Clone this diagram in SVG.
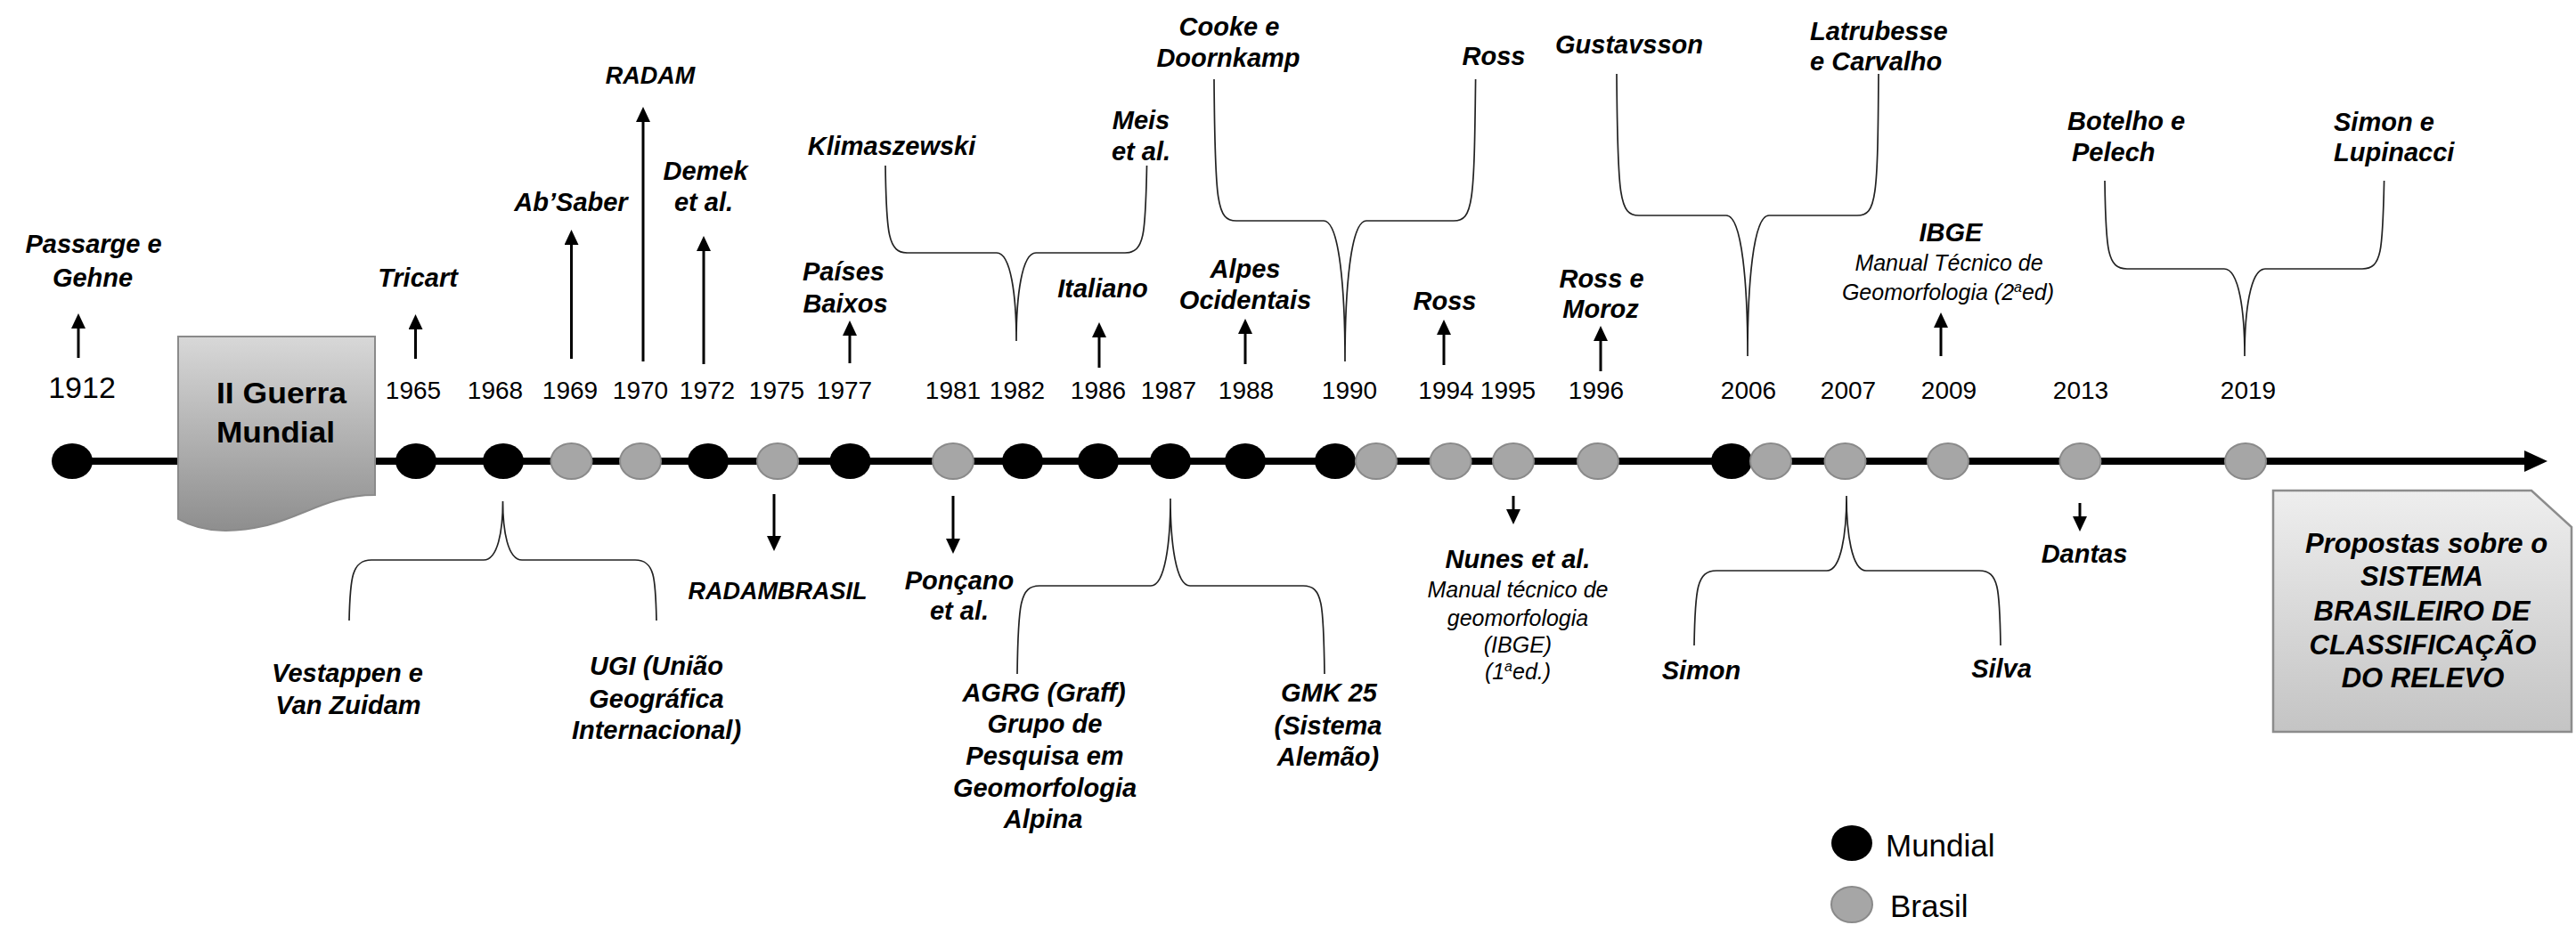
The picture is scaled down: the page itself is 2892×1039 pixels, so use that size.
<svg xmlns="http://www.w3.org/2000/svg" width="2892" height="1039" viewBox="0 0 2892 1039">
<style>
text{font-family:"Liberation Sans",Arial,Helvetica,sans-serif;fill:#000}
.l{font-weight:bold;font-style:italic;font-size:29px;text-anchor:middle}
.ls{font-weight:bold;font-style:italic;font-size:29px;text-anchor:start}
.caps{font-size:27px}
.s{font-style:italic;font-size:25px;text-anchor:middle}
.y{font-size:28px;text-anchor:middle}
.y1{font-size:34px;text-anchor:middle}
.gw{font-weight:bold;font-size:34px}
.bx{font-weight:bold;font-style:italic;font-size:31px;text-anchor:middle}
.lg{font-size:35px;text-anchor:start}
.m{fill:#000}
.b{fill:#a6a6a6;stroke:#8a8a8a;stroke-width:2}
.ar{stroke:#000;stroke-width:3;fill:none;marker-end:url(#ah)}
.br{fill:none;stroke:#222;stroke-width:1.7}
</style>
<defs>
<marker id="ah" markerUnits="userSpaceOnUse" markerWidth="17" markerHeight="16" viewBox="0 0 17 16" refX="5" refY="8" orient="auto"><path d="M0,0 L17,8 L0,16 Z" fill="#000"/></marker>
<linearGradient id="gw" x1="0" y1="0" x2="0" y2="1"><stop offset="0" stop-color="#d8d8d8"/><stop offset="1" stop-color="#8e8e8e"/></linearGradient>
<linearGradient id="gp" x1="0" y1="0" x2="0" y2="1"><stop offset="0" stop-color="#eeeeee"/><stop offset="1" stop-color="#c4c4c4"/></linearGradient>
</defs>
<rect width="2892" height="1039" fill="#fff"/>

<g id="connectors">
<g id="timeline-axis">
<line x1="81" y1="518" x2="2840" y2="518" stroke="#000" stroke-width="8"/>
<polygon points="2834,506 2860,518 2834,530" fill="#000"/>
</g>
<g id="up-arrows">
<line class="ar" x1="88" y1="402" x2="88" y2="364"/>
<line class="ar" x1="466.5" y1="403" x2="466.5" y2="365"/>
<line class="ar" x1="641.5" y1="403" x2="641.5" y2="270"/>
<line class="ar" x1="722" y1="406" x2="722" y2="132"/>
<line class="ar" x1="790" y1="409" x2="790" y2="277"/>
<line class="ar" x1="954" y1="408" x2="954" y2="372"/>
<line class="ar" x1="1234" y1="413" x2="1234" y2="374"/>
<line class="ar" x1="1398" y1="409" x2="1398" y2="370"/>
<line class="ar" x1="1621" y1="410" x2="1621" y2="371"/>
<line class="ar" x1="1797" y1="417" x2="1797" y2="378"/>
<line class="ar" x1="2179" y1="400" x2="2179" y2="363"/>
</g>
<g id="down-arrows">
<line class="ar" x1="869" y1="555" x2="869" y2="607"/>
<line class="ar" x1="1070" y1="557" x2="1070" y2="610"/>
<line class="ar" x1="1699" y1="557" x2="1699" y2="577"/>
<line class="ar" x1="2335" y1="565" x2="2335" y2="585"/>
</g>
<g id="braces">
<path class="br" d="M994,186 C995,263 997,284 1019,284 L1119,284 C1135,284 1141,333 1141,383 C1141,333 1147,284 1163,284 L1263,284 C1285,284 1286,263 1287.5,186"/>
<path class="br" d="M1363,89 C1364,228 1366,248 1388,248 L1486,248 C1504,248 1510,327 1510,406 C1510,327 1516,248 1534,248 L1632,248 C1654,248 1655,228 1656.6,89"/>
<path class="br" d="M1815,83 C1816,222 1818,242 1840,242 L1938,242 C1956,242 1962,321 1962,400 C1962,321 1968,242 1986,242 L2085,242 C2107,242 2108,222 2109,83"/>
<path class="br" d="M2363,203 C2364,282 2366,302 2388,302 L2497,302 C2514,302 2520,351 2520,400 C2520,351 2526,302 2543,302 L2652,302 C2674,302 2675,282 2676.6,203"/>
<path class="br" d="M392,697 C393,649 395,629 417,629 L543,629 C559,629 564.5,596 564.5,563 C564.5,596 570,629 586,629 L713,629 C735,629 736,649 737,697"/>
<path class="br" d="M1142,757 C1143,678 1145,658 1167,658 L1292,658 C1308,658 1314,609 1314,560 C1314,609 1320,658 1336,658 L1463,658 C1485,658 1486,678 1487,757"/>
<path class="br" d="M1902,725 C1903,661 1905,641 1927,641 L2051,641 C2067,641 2073,599 2073,557 C2073,599 2079,641 2095,641 L2222,641 C2244,641 2245,661 2246,725"/>
</g>
</g>

<g id="ii-guerra">
<path d="M200,378 H421 V556 C370,556 345,578 300,590 C265,598 230,600 200,583 Z" fill="url(#gw)" stroke="#8a8a8a" stroke-width="2"/>
<text class="gw" x="243" y="453" textLength="146" lengthAdjust="spacingAndGlyphs">II Guerra</text>
<text class="gw" x="243" y="497" textLength="133" lengthAdjust="spacingAndGlyphs">Mundial</text>
</g>

<g id="years">
<g id="y1912"><ellipse class="m" cx="81" cy="518" rx="23" ry="20"/><text class="y1" x="92" y="447">1912</text></g>
<g id="y1965"><ellipse class="m" cx="467" cy="518" rx="23" ry="20"/><text class="y" x="464" y="448">1965</text></g>
<g id="y1968"><ellipse class="m" cx="565" cy="518" rx="23" ry="20"/><text class="y" x="556" y="448">1968</text></g>
<g id="y1969"><ellipse class="b" cx="641.5" cy="518" rx="23" ry="20"/><text class="y" x="640" y="448">1969</text></g>
<g id="y1970"><ellipse class="b" cx="719" cy="518" rx="23" ry="20"/><text class="y" x="719" y="448">1970</text></g>
<g id="y1972"><ellipse class="m" cx="795" cy="518" rx="23" ry="20"/><text class="y" x="794" y="448">1972</text></g>
<g id="y1975"><ellipse class="b" cx="873" cy="518" rx="23" ry="20"/><text class="y" x="872" y="448">1975</text></g>
<g id="y1977"><ellipse class="m" cx="954.5" cy="518" rx="23" ry="20"/><text class="y" x="948" y="448">1977</text></g>
<g id="y1981"><ellipse class="b" cx="1070" cy="518" rx="23" ry="20"/><text class="y" x="1070" y="448">1981</text></g>
<g id="y1982"><ellipse class="m" cx="1148" cy="518" rx="23" ry="20"/><text class="y" x="1142" y="448">1982</text></g>
<g id="y1986"><ellipse class="m" cx="1233" cy="518" rx="23" ry="20"/><text class="y" x="1233" y="448">1986</text></g>
<g id="y1987"><ellipse class="m" cx="1314" cy="518" rx="23" ry="20"/><text class="y" x="1312" y="448">1987</text></g>
<g id="y1988"><ellipse class="m" cx="1398" cy="518" rx="23" ry="20"/><text class="y" x="1399" y="448">1988</text></g>
<g id="y1990"><ellipse class="m" cx="1499" cy="518" rx="23" ry="20"/><ellipse class="b" cx="1545" cy="518" rx="23" ry="20"/><text class="y" x="1515" y="448">1990</text></g>
<g id="y1994"><ellipse class="b" cx="1628.6" cy="518" rx="23" ry="20"/><text class="y" x="1623.5" y="448">1994</text></g>
<g id="y1995"><ellipse class="b" cx="1699" cy="518" rx="23" ry="20"/><text class="y" x="1693" y="448">1995</text></g>
<g id="y1996"><ellipse class="b" cx="1794" cy="518" rx="23" ry="20"/><text class="y" x="1792" y="448">1996</text></g>
<g id="y2006"><ellipse class="m" cx="1944" cy="518" rx="23" ry="20"/><ellipse class="b" cx="1988" cy="518" rx="23" ry="20"/><text class="y" x="1963" y="448">2006</text></g>
<g id="y2007"><ellipse class="b" cx="2071.5" cy="518" rx="23" ry="20"/><text class="y" x="2075" y="448">2007</text></g>
<g id="y2009"><ellipse class="b" cx="2187" cy="518" rx="23" ry="20"/><text class="y" x="2188" y="448">2009</text></g>
<g id="y2013"><ellipse class="b" cx="2335.4" cy="518" rx="23" ry="20"/><text class="y" x="2336" y="448">2013</text></g>
<g id="y2019"><ellipse class="b" cx="2521" cy="518" rx="23" ry="20"/><text class="y" x="2524" y="448">2019</text></g>
</g>

<g id="labels-top">
<g id="l-passarge"><text class="l" x="105" y="284">Passarge e</text><text class="l" x="104" y="322">Gehne</text></g>
<g id="l-tricart"><text class="l" x="469" y="322">Tricart</text></g>
<g id="l-absaber"><text class="l" x="641" y="237">Ab’Saber</text></g>
<g id="l-radam"><text class="l caps" x="730" y="94">RADAM</text></g>
<g id="l-demek"><text class="l" x="792" y="202">Demek</text><text class="l" x="790" y="237">et al.</text></g>
<g id="l-klima"><text class="l" x="1001" y="174">Klimaszewski</text></g>
<g id="l-meis"><text class="l" x="1281" y="145">Meis</text><text class="l" x="1281" y="180">et al.</text></g>
<g id="l-paises"><text class="l" x="947" y="315">Países</text><text class="l" x="949" y="351">Baixos</text></g>
<g id="l-italiano"><text class="l" x="1238" y="334">Italiano</text></g>
<g id="l-cooke"><text class="l" x="1380" y="40">Cooke e</text><text class="l" x="1379" y="75">Doornkamp</text></g>
<g id="l-ross1"><text class="l" x="1677" y="73">Ross</text></g>
<g id="l-alpes"><text class="l" x="1398" y="312">Alpes</text><text class="l" x="1398" y="347">Ocidentais</text></g>
<g id="l-ross2"><text class="l" x="1622" y="348">Ross</text></g>
<g id="l-rossmoroz"><text class="l" x="1798" y="323">Ross e</text><text class="l" x="1797" y="357">Moroz</text></g>
<g id="l-gustavsson"><text class="l" x="1829" y="60">Gustavsson</text></g>
<g id="l-latrubesse"><text class="ls" x="2032" y="45">Latrubesse</text><text class="ls" x="2032" y="79">e Carvalho</text></g>
<g id="l-ibge"><text class="l" x="2190" y="271">IBGE</text><text class="s" x="2188" y="304">Manual Técnico de</text><text class="s" x="2187" y="337">Geomorfologia (2<tspan font-size="16" dy="-9">a</tspan><tspan dy="9">ed)</tspan></text></g>
<g id="l-botelho"><text class="ls" x="2321" y="146">Botelho e</text><text class="ls" x="2326" y="181">Pelech</text></g>
<g id="l-simonlup"><text class="ls" x="2620" y="147">Simon e</text><text class="ls" x="2620" y="181">Lupinacci</text></g>
</g>

<g id="labels-bottom">
<g id="l-radambrasil"><text class="l caps" x="873" y="673">RADAMBRASIL</text></g>
<g id="l-poncano"><text class="l" x="1077" y="662">Ponçano</text><text class="l" x="1077" y="696">et al.</text></g>
<g id="l-vestappen"><text class="l" x="390" y="766">Vestappen e</text><text class="l" x="391" y="802">Van Zuidam</text></g>
<g id="l-ugi"><text class="l" x="737" y="758">UGI (União</text><text class="l" x="737" y="795">Geográfica</text><text class="l" x="737" y="830">Internacional)</text></g>
<g id="l-agrg"><text class="l" x="1172" y="788">AGRG (Graff)</text><text class="l" x="1173" y="823">Grupo de</text><text class="l" x="1173" y="859">Pesquisa em</text><text class="l" x="1173" y="895">Geomorfologia</text><text class="l" x="1171" y="930">Alpina</text></g>
<g id="l-gmk"><text class="l" x="1492" y="788">GMK 25</text><text class="l" x="1491" y="825">(Sistema</text><text class="l" x="1491" y="860">Alemão)</text></g>
<g id="l-nunes"><text class="l" x="1704" y="638">Nunes et al.</text><text class="s" x="1704" y="671">Manual técnico de</text><text class="s" x="1704" y="703">geomorfologia</text><text class="s" x="1704" y="733">(IBGE)</text><text class="s" x="1704" y="763">(1<tspan font-size="16" dy="-9">a</tspan><tspan dy="9">ed.)</tspan></text></g>
<g id="l-dantas"><text class="l" x="2340" y="632">Dantas</text></g>
<g id="l-simon"><text class="l" x="1910" y="763">Simon</text></g>
<g id="l-silva"><text class="l" x="2247" y="761">Silva</text></g>
</g>

<g id="propostas">
<path d="M2552,551 H2842 L2887,592 V822 H2552 Z" fill="url(#gp)" stroke="#8c8c8c" stroke-width="2.5"/>
<text class="bx" x="2724" y="621">Propostas sobre o</text>
<text class="bx" x="2719" y="658">SISTEMA</text>
<text class="bx" x="2719" y="697">BRASILEIRO DE</text>
<text class="bx" x="2720" y="735">CLASSIFICAÇÃO</text>
<text class="bx" x="2720" y="772">DO RELEVO</text>
</g>

<g id="legend">
<g id="lg-mundial"><ellipse class="m" cx="2079" cy="947" rx="23" ry="20"/><text class="lg" x="2117" y="962">Mundial</text></g>
<g id="lg-brasil"><ellipse class="b" cx="2079" cy="1016" rx="23" ry="20"/><text class="lg" x="2122" y="1030">Brasil</text></g>
</g>
</svg>
